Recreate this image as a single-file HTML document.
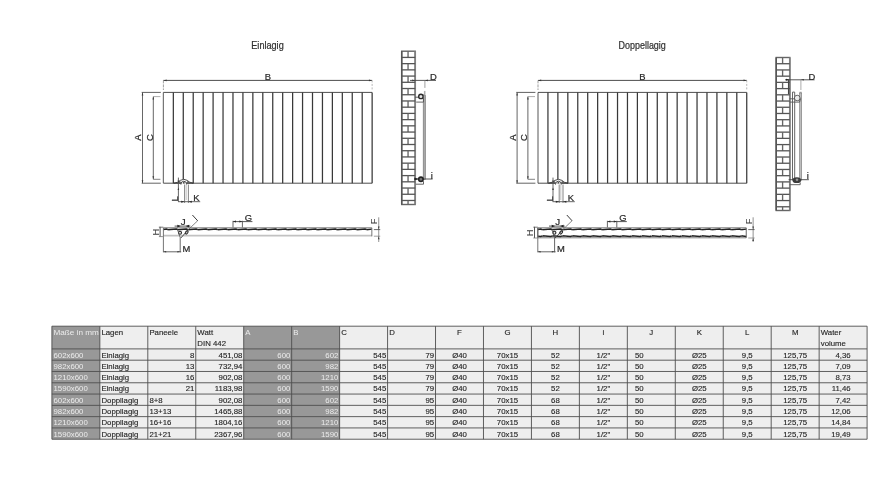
<!DOCTYPE html>
<html><head><meta charset="utf-8"><title>Radiator dimensions</title>
<style>
html,body{margin:0;padding:0;background:#fff;}
body{width:886px;height:479px;overflow:hidden;font-family:"Liberation Sans",sans-serif;}
svg{display:block;font-family:"Liberation Sans",sans-serif;}
.lbl{stroke:#2a2a2a;stroke-width:.22px;}
.tc{stroke:#262626;stroke-width:.14px;}
</style></head><body>
<svg width="886" height="479" viewBox="0 0 886 479">
<defs><filter id="soft" x="-2%" y="-2%" width="104%" height="104%"><feGaussianBlur stdDeviation="0.35"/></filter></defs>
<rect width="886" height="479" fill="#fff"/>
<g filter="url(#soft)">
<line x1="163.40" y1="92.40" x2="163.40" y2="183.20" stroke="#777" stroke-width="1.25" />
<line x1="173.34" y1="92.40" x2="173.34" y2="183.20" stroke="#383838" stroke-width="1.25" />
<line x1="183.28" y1="92.40" x2="183.28" y2="183.20" stroke="#383838" stroke-width="1.25" />
<line x1="193.22" y1="92.40" x2="193.22" y2="183.20" stroke="#383838" stroke-width="1.25" />
<line x1="203.16" y1="92.40" x2="203.16" y2="183.20" stroke="#383838" stroke-width="1.25" />
<line x1="213.10" y1="92.40" x2="213.10" y2="183.20" stroke="#383838" stroke-width="1.25" />
<line x1="223.04" y1="92.40" x2="223.04" y2="183.20" stroke="#383838" stroke-width="1.25" />
<line x1="232.98" y1="92.40" x2="232.98" y2="183.20" stroke="#383838" stroke-width="1.25" />
<line x1="242.92" y1="92.40" x2="242.92" y2="183.20" stroke="#383838" stroke-width="1.25" />
<line x1="252.86" y1="92.40" x2="252.86" y2="183.20" stroke="#383838" stroke-width="1.25" />
<line x1="262.80" y1="92.40" x2="262.80" y2="183.20" stroke="#383838" stroke-width="1.25" />
<line x1="272.74" y1="92.40" x2="272.74" y2="183.20" stroke="#383838" stroke-width="1.25" />
<line x1="282.68" y1="92.40" x2="282.68" y2="183.20" stroke="#383838" stroke-width="1.25" />
<line x1="292.62" y1="92.40" x2="292.62" y2="183.20" stroke="#383838" stroke-width="1.25" />
<line x1="302.56" y1="92.40" x2="302.56" y2="183.20" stroke="#383838" stroke-width="1.25" />
<line x1="312.50" y1="92.40" x2="312.50" y2="183.20" stroke="#383838" stroke-width="1.25" />
<line x1="322.44" y1="92.40" x2="322.44" y2="183.20" stroke="#383838" stroke-width="1.25" />
<line x1="332.38" y1="92.40" x2="332.38" y2="183.20" stroke="#383838" stroke-width="1.25" />
<line x1="342.32" y1="92.40" x2="342.32" y2="183.20" stroke="#383838" stroke-width="1.25" />
<line x1="352.26" y1="92.40" x2="352.26" y2="183.20" stroke="#383838" stroke-width="1.25" />
<line x1="362.20" y1="92.40" x2="362.20" y2="183.20" stroke="#383838" stroke-width="1.25" />
<line x1="372.14" y1="92.40" x2="372.14" y2="183.20" stroke="#383838" stroke-width="1.25" />
<line x1="163.40" y1="92.40" x2="372.14" y2="92.40" stroke="#383838" stroke-width="0.9" />
<line x1="163.40" y1="183.20" x2="372.14" y2="183.20" stroke="#383838" stroke-width="0.9" />
<line x1="163.40" y1="80.40" x2="372.14" y2="80.40" stroke="#383838" stroke-width="0.9" />
<path d="M163.40,80.40 L166.60,79.60 L166.60,81.20 Z" fill="#383838"/>
<path d="M372.14,80.40 L368.94,79.60 L368.94,81.20 Z" fill="#383838"/>
<line x1="163.40" y1="80.40" x2="163.40" y2="90.00" stroke="#777" stroke-width="0.7" stroke-dasharray="3 1"/>
<line x1="372.14" y1="80.40" x2="372.14" y2="90.00" stroke="#999" stroke-width="0.7" stroke-dasharray="2 1.5"/>
<text x="267.87" y="80.20" font-size="9.4" fill="#2a2a2a" text-anchor="middle"  class="lbl">B</text>
<line x1="141.70" y1="92.40" x2="160.80" y2="92.40" stroke="#383838" stroke-width="0.8" />
<line x1="141.70" y1="183.20" x2="160.80" y2="183.20" stroke="#383838" stroke-width="0.8" />
<line x1="142.50" y1="92.40" x2="142.50" y2="183.20" stroke="#555" stroke-width="0.9" />
<path d="M142.50,92.40 L141.70,95.40 L143.30,95.40 Z" fill="#383838"/>
<path d="M142.50,183.20 L141.70,180.20 L143.30,180.20 Z" fill="#383838"/>
<line x1="153.30" y1="96.60" x2="153.30" y2="179.30" stroke="#555" stroke-width="0.9" />
<line x1="153.30" y1="96.60" x2="160.40" y2="96.60" stroke="#888" stroke-width="0.7" />
<line x1="153.30" y1="179.30" x2="160.40" y2="179.30" stroke="#666" stroke-width="0.8" />
<path d="M153.30,96.60 L152.50,99.60 L154.10,99.60 Z" fill="#383838"/>
<path d="M153.30,179.30 L152.50,176.30 L154.10,176.30 Z" fill="#383838"/>
<text transform="translate(141.30,137.6) rotate(-90)" class="lbl" font-size="9.4" fill="#2a2a2a" text-anchor="middle">A</text>
<text transform="translate(152.50,137.6) rotate(-90)" class="lbl" font-size="9.4" fill="#2a2a2a" text-anchor="middle">C</text>
<path d="M173.80,183.2 Q178.80,182.6 180.30,180.4 Q183.80,178.2 187.30,180.4 Q188.80,182.6 193.30,183.2 Z" stroke="#383838" stroke-width="0.9" fill="#fff" />
<path d="M176.80,183.2 L179.80,181 L180.80,183.2 Z" stroke="#555" stroke-width="0.6" fill="#666" />
<path d="M190.80,183.2 L187.80,181 L186.80,183.2 Z" stroke="#555" stroke-width="0.6" fill="#666" />
<path d="M180.90,184.6 Q180.90,181.2 183.80,181.2 Q186.70,181.2 186.70,184.6" stroke="#383838" stroke-width="0.9" fill="#fff" />
<path d="M183.00,183.2 L183.80,181.9 L184.60,183.2 Z" stroke="#383838" stroke-width="0.6" fill="#383838" />
<line x1="178.40" y1="177.60" x2="178.40" y2="201.70" stroke="#555" stroke-width="0.9" />
<path d="M178.40,183.20 L177.60,180.60 L179.20,180.60 Z" fill="#383838"/>
<path d="M178.40,187.40 L177.60,190.00 L179.20,190.00 Z" fill="#383838"/>
<line x1="184.60" y1="184.50" x2="184.60" y2="203.00" stroke="#777" stroke-width="0.9" />
<line x1="186.20" y1="184.50" x2="186.20" y2="200.00" stroke="#aaa" stroke-width="0.7" />
<line x1="188.40" y1="184.50" x2="188.40" y2="203.00" stroke="#777" stroke-width="0.9" />
<line x1="178.00" y1="201.70" x2="200.20" y2="201.70" stroke="#555" stroke-width="0.9" />
<path d="M184.60,201.70 L181.20,200.70 L181.20,202.70 Z" fill="#2a2a2a"/>
<path d="M188.40,201.70 L191.80,200.70 L191.80,202.70 Z" fill="#2a2a2a"/>
<text x="193.20" y="201.30" font-size="9.4" fill="#2a2a2a" text-anchor="start"  class="lbl">K</text>
<text transform="translate(177.90,201.6) rotate(-90)" class="lbl" font-size="9.4" fill="#444">L</text>
<line x1="538.00" y1="92.40" x2="538.00" y2="183.20" stroke="#777" stroke-width="1.25" />
<line x1="547.94" y1="92.40" x2="547.94" y2="183.20" stroke="#383838" stroke-width="1.25" />
<line x1="557.88" y1="92.40" x2="557.88" y2="183.20" stroke="#383838" stroke-width="1.25" />
<line x1="567.82" y1="92.40" x2="567.82" y2="183.20" stroke="#383838" stroke-width="1.25" />
<line x1="577.76" y1="92.40" x2="577.76" y2="183.20" stroke="#383838" stroke-width="1.25" />
<line x1="587.70" y1="92.40" x2="587.70" y2="183.20" stroke="#383838" stroke-width="1.25" />
<line x1="597.64" y1="92.40" x2="597.64" y2="183.20" stroke="#383838" stroke-width="1.25" />
<line x1="607.58" y1="92.40" x2="607.58" y2="183.20" stroke="#383838" stroke-width="1.25" />
<line x1="617.52" y1="92.40" x2="617.52" y2="183.20" stroke="#383838" stroke-width="1.25" />
<line x1="627.46" y1="92.40" x2="627.46" y2="183.20" stroke="#383838" stroke-width="1.25" />
<line x1="637.40" y1="92.40" x2="637.40" y2="183.20" stroke="#383838" stroke-width="1.25" />
<line x1="647.34" y1="92.40" x2="647.34" y2="183.20" stroke="#383838" stroke-width="1.25" />
<line x1="657.28" y1="92.40" x2="657.28" y2="183.20" stroke="#383838" stroke-width="1.25" />
<line x1="667.22" y1="92.40" x2="667.22" y2="183.20" stroke="#383838" stroke-width="1.25" />
<line x1="677.16" y1="92.40" x2="677.16" y2="183.20" stroke="#383838" stroke-width="1.25" />
<line x1="687.10" y1="92.40" x2="687.10" y2="183.20" stroke="#383838" stroke-width="1.25" />
<line x1="697.04" y1="92.40" x2="697.04" y2="183.20" stroke="#383838" stroke-width="1.25" />
<line x1="706.98" y1="92.40" x2="706.98" y2="183.20" stroke="#383838" stroke-width="1.25" />
<line x1="716.92" y1="92.40" x2="716.92" y2="183.20" stroke="#383838" stroke-width="1.25" />
<line x1="726.86" y1="92.40" x2="726.86" y2="183.20" stroke="#383838" stroke-width="1.25" />
<line x1="736.80" y1="92.40" x2="736.80" y2="183.20" stroke="#383838" stroke-width="1.25" />
<line x1="746.74" y1="92.40" x2="746.74" y2="183.20" stroke="#383838" stroke-width="1.25" />
<line x1="538.00" y1="92.40" x2="746.74" y2="92.40" stroke="#383838" stroke-width="0.9" />
<line x1="538.00" y1="183.20" x2="746.74" y2="183.20" stroke="#383838" stroke-width="0.9" />
<line x1="538.00" y1="80.40" x2="746.74" y2="80.40" stroke="#383838" stroke-width="0.9" />
<path d="M538.00,80.40 L541.20,79.60 L541.20,81.20 Z" fill="#383838"/>
<path d="M746.74,80.40 L743.54,79.60 L743.54,81.20 Z" fill="#383838"/>
<line x1="538.00" y1="80.40" x2="538.00" y2="90.00" stroke="#777" stroke-width="0.7" stroke-dasharray="3 1"/>
<line x1="746.74" y1="80.40" x2="746.74" y2="90.00" stroke="#999" stroke-width="0.7" stroke-dasharray="2 1.5"/>
<text x="642.47" y="80.20" font-size="9.4" fill="#2a2a2a" text-anchor="middle"  class="lbl">B</text>
<line x1="516.30" y1="92.40" x2="535.40" y2="92.40" stroke="#383838" stroke-width="0.8" />
<line x1="516.30" y1="183.20" x2="535.40" y2="183.20" stroke="#383838" stroke-width="0.8" />
<line x1="517.10" y1="92.40" x2="517.10" y2="183.20" stroke="#555" stroke-width="0.9" />
<path d="M517.10,92.40 L516.30,95.40 L517.90,95.40 Z" fill="#383838"/>
<path d="M517.10,183.20 L516.30,180.20 L517.90,180.20 Z" fill="#383838"/>
<line x1="527.90" y1="96.60" x2="527.90" y2="179.30" stroke="#555" stroke-width="0.9" />
<line x1="527.90" y1="96.60" x2="535.00" y2="96.60" stroke="#888" stroke-width="0.7" />
<line x1="527.90" y1="179.30" x2="535.00" y2="179.30" stroke="#666" stroke-width="0.8" />
<path d="M527.90,96.60 L527.10,99.60 L528.70,99.60 Z" fill="#383838"/>
<path d="M527.90,179.30 L527.10,176.30 L528.70,176.30 Z" fill="#383838"/>
<text transform="translate(515.90,137.6) rotate(-90)" class="lbl" font-size="9.4" fill="#2a2a2a" text-anchor="middle">A</text>
<text transform="translate(527.10,137.6) rotate(-90)" class="lbl" font-size="9.4" fill="#2a2a2a" text-anchor="middle">C</text>
<path d="M548.40,183.2 Q553.40,182.6 554.90,180.4 Q558.40,178.2 561.90,180.4 Q563.40,182.6 567.90,183.2 Z" stroke="#383838" stroke-width="0.9" fill="#fff" />
<path d="M551.40,183.2 L554.40,181 L555.40,183.2 Z" stroke="#555" stroke-width="0.6" fill="#666" />
<path d="M565.40,183.2 L562.40,181 L561.40,183.2 Z" stroke="#555" stroke-width="0.6" fill="#666" />
<path d="M555.50,184.6 Q555.50,181.2 558.40,181.2 Q561.30,181.2 561.30,184.6" stroke="#383838" stroke-width="0.9" fill="#fff" />
<path d="M557.60,183.2 L558.40,181.9 L559.20,183.2 Z" stroke="#383838" stroke-width="0.6" fill="#383838" />
<line x1="553.00" y1="177.60" x2="553.00" y2="201.70" stroke="#555" stroke-width="0.9" />
<path d="M553.00,183.20 L552.20,180.60 L553.80,180.60 Z" fill="#383838"/>
<path d="M553.00,187.40 L552.20,190.00 L553.80,190.00 Z" fill="#383838"/>
<line x1="559.20" y1="184.50" x2="559.20" y2="203.00" stroke="#777" stroke-width="0.9" />
<line x1="560.80" y1="184.50" x2="560.80" y2="200.00" stroke="#aaa" stroke-width="0.7" />
<line x1="563.00" y1="184.50" x2="563.00" y2="203.00" stroke="#777" stroke-width="0.9" />
<line x1="552.60" y1="201.70" x2="574.80" y2="201.70" stroke="#555" stroke-width="0.9" />
<path d="M559.20,201.70 L555.80,200.70 L555.80,202.70 Z" fill="#2a2a2a"/>
<path d="M563.00,201.70 L566.40,200.70 L566.40,202.70 Z" fill="#2a2a2a"/>
<text x="567.80" y="201.30" font-size="9.4" fill="#2a2a2a" text-anchor="start"  class="lbl">K</text>
<text transform="translate(552.50,201.6) rotate(-90)" class="lbl" font-size="9.4" fill="#444">L</text>
<rect x="401.70" y="51.20" width="13.50" height="153.30" fill="#fff" stroke="#666" stroke-width="1.4"/>
<line x1="401.70" y1="51.20" x2="401.70" y2="204.50" stroke="#555" stroke-width="1.5" />
<line x1="415.20" y1="51.20" x2="415.20" y2="204.50" stroke="#808080" stroke-width="1.7" />
<line x1="408.05" y1="51.20" x2="408.05" y2="57.42" stroke="#666" stroke-width="1.35" />
<line x1="401.70" y1="57.42" x2="415.20" y2="57.42" stroke="#555" stroke-width="1.3" />
<line x1="401.70" y1="63.64" x2="415.20" y2="63.64" stroke="#555" stroke-width="1.3" />
<line x1="408.05" y1="63.64" x2="408.05" y2="69.86" stroke="#666" stroke-width="1.35" />
<line x1="401.70" y1="69.86" x2="415.20" y2="69.86" stroke="#555" stroke-width="1.3" />
<line x1="401.70" y1="76.08" x2="415.20" y2="76.08" stroke="#555" stroke-width="1.3" />
<line x1="408.05" y1="76.08" x2="408.05" y2="82.30" stroke="#666" stroke-width="1.35" />
<line x1="401.70" y1="82.30" x2="415.20" y2="82.30" stroke="#555" stroke-width="1.3" />
<line x1="401.70" y1="88.52" x2="415.20" y2="88.52" stroke="#555" stroke-width="1.3" />
<line x1="408.05" y1="88.52" x2="408.05" y2="94.74" stroke="#666" stroke-width="1.35" />
<line x1="401.70" y1="94.74" x2="415.20" y2="94.74" stroke="#555" stroke-width="1.3" />
<line x1="401.70" y1="100.96" x2="415.20" y2="100.96" stroke="#555" stroke-width="1.3" />
<line x1="408.05" y1="100.96" x2="408.05" y2="107.18" stroke="#666" stroke-width="1.35" />
<line x1="401.70" y1="107.18" x2="415.20" y2="107.18" stroke="#555" stroke-width="1.3" />
<line x1="401.70" y1="113.40" x2="415.20" y2="113.40" stroke="#555" stroke-width="1.3" />
<line x1="408.05" y1="113.40" x2="408.05" y2="119.62" stroke="#666" stroke-width="1.35" />
<line x1="401.70" y1="119.62" x2="415.20" y2="119.62" stroke="#555" stroke-width="1.3" />
<line x1="401.70" y1="125.84" x2="415.20" y2="125.84" stroke="#555" stroke-width="1.3" />
<line x1="408.05" y1="125.84" x2="408.05" y2="132.06" stroke="#666" stroke-width="1.35" />
<line x1="401.70" y1="132.06" x2="415.20" y2="132.06" stroke="#555" stroke-width="1.3" />
<line x1="401.70" y1="138.28" x2="415.20" y2="138.28" stroke="#555" stroke-width="1.3" />
<line x1="408.05" y1="138.28" x2="408.05" y2="144.50" stroke="#666" stroke-width="1.35" />
<line x1="401.70" y1="144.50" x2="415.20" y2="144.50" stroke="#555" stroke-width="1.3" />
<line x1="401.70" y1="150.72" x2="415.20" y2="150.72" stroke="#555" stroke-width="1.3" />
<line x1="408.05" y1="150.72" x2="408.05" y2="156.94" stroke="#666" stroke-width="1.35" />
<line x1="401.70" y1="156.94" x2="415.20" y2="156.94" stroke="#555" stroke-width="1.3" />
<line x1="401.70" y1="163.16" x2="415.20" y2="163.16" stroke="#555" stroke-width="1.3" />
<line x1="408.05" y1="163.16" x2="408.05" y2="169.38" stroke="#666" stroke-width="1.35" />
<line x1="401.70" y1="169.38" x2="415.20" y2="169.38" stroke="#555" stroke-width="1.3" />
<line x1="401.70" y1="175.60" x2="415.20" y2="175.60" stroke="#555" stroke-width="1.3" />
<line x1="408.05" y1="175.60" x2="408.05" y2="181.82" stroke="#666" stroke-width="1.35" />
<line x1="401.70" y1="181.82" x2="415.20" y2="181.82" stroke="#555" stroke-width="1.3" />
<line x1="401.70" y1="188.04" x2="415.20" y2="188.04" stroke="#555" stroke-width="1.3" />
<line x1="408.05" y1="188.04" x2="408.05" y2="194.26" stroke="#666" stroke-width="1.35" />
<line x1="401.70" y1="194.26" x2="415.20" y2="194.26" stroke="#555" stroke-width="1.3" />
<line x1="401.70" y1="200.48" x2="415.20" y2="200.48" stroke="#555" stroke-width="1.3" />
<line x1="408.05" y1="200.48" x2="408.05" y2="204.50" stroke="#666" stroke-width="1.35" />
<rect x="776.20" y="57.50" width="13.60" height="153.00" fill="#fff" stroke="#666" stroke-width="1.4"/>
<line x1="776.20" y1="57.50" x2="776.20" y2="210.50" stroke="#555" stroke-width="1.5" />
<line x1="789.80" y1="57.50" x2="789.80" y2="210.50" stroke="#808080" stroke-width="1.7" />
<line x1="782.60" y1="57.50" x2="782.60" y2="63.72" stroke="#666" stroke-width="1.35" />
<line x1="776.20" y1="63.72" x2="789.80" y2="63.72" stroke="#555" stroke-width="1.3" />
<line x1="776.20" y1="69.94" x2="789.80" y2="69.94" stroke="#555" stroke-width="1.3" />
<line x1="782.60" y1="69.94" x2="782.60" y2="76.16" stroke="#666" stroke-width="1.35" />
<line x1="776.20" y1="76.16" x2="789.80" y2="76.16" stroke="#555" stroke-width="1.3" />
<line x1="776.20" y1="82.38" x2="789.80" y2="82.38" stroke="#555" stroke-width="1.3" />
<line x1="782.60" y1="82.38" x2="782.60" y2="88.60" stroke="#666" stroke-width="1.35" />
<line x1="776.20" y1="88.60" x2="789.80" y2="88.60" stroke="#555" stroke-width="1.3" />
<line x1="776.20" y1="94.82" x2="789.80" y2="94.82" stroke="#555" stroke-width="1.3" />
<line x1="782.60" y1="94.82" x2="782.60" y2="101.04" stroke="#666" stroke-width="1.35" />
<line x1="776.20" y1="101.04" x2="789.80" y2="101.04" stroke="#555" stroke-width="1.3" />
<line x1="776.20" y1="107.26" x2="789.80" y2="107.26" stroke="#555" stroke-width="1.3" />
<line x1="782.60" y1="107.26" x2="782.60" y2="113.48" stroke="#666" stroke-width="1.35" />
<line x1="776.20" y1="113.48" x2="789.80" y2="113.48" stroke="#555" stroke-width="1.3" />
<line x1="776.20" y1="119.70" x2="789.80" y2="119.70" stroke="#555" stroke-width="1.3" />
<line x1="782.60" y1="119.70" x2="782.60" y2="125.92" stroke="#666" stroke-width="1.35" />
<line x1="776.20" y1="125.92" x2="789.80" y2="125.92" stroke="#555" stroke-width="1.3" />
<line x1="776.20" y1="132.14" x2="789.80" y2="132.14" stroke="#555" stroke-width="1.3" />
<line x1="782.60" y1="132.14" x2="782.60" y2="138.36" stroke="#666" stroke-width="1.35" />
<line x1="776.20" y1="138.36" x2="789.80" y2="138.36" stroke="#555" stroke-width="1.3" />
<line x1="776.20" y1="144.58" x2="789.80" y2="144.58" stroke="#555" stroke-width="1.3" />
<line x1="782.60" y1="144.58" x2="782.60" y2="150.80" stroke="#666" stroke-width="1.35" />
<line x1="776.20" y1="150.80" x2="789.80" y2="150.80" stroke="#555" stroke-width="1.3" />
<line x1="776.20" y1="157.02" x2="789.80" y2="157.02" stroke="#555" stroke-width="1.3" />
<line x1="782.60" y1="157.02" x2="782.60" y2="163.24" stroke="#666" stroke-width="1.35" />
<line x1="776.20" y1="163.24" x2="789.80" y2="163.24" stroke="#555" stroke-width="1.3" />
<line x1="776.20" y1="169.46" x2="789.80" y2="169.46" stroke="#555" stroke-width="1.3" />
<line x1="782.60" y1="169.46" x2="782.60" y2="175.68" stroke="#666" stroke-width="1.35" />
<line x1="776.20" y1="175.68" x2="789.80" y2="175.68" stroke="#555" stroke-width="1.3" />
<line x1="776.20" y1="181.90" x2="789.80" y2="181.90" stroke="#555" stroke-width="1.3" />
<line x1="782.60" y1="181.90" x2="782.60" y2="188.12" stroke="#666" stroke-width="1.35" />
<line x1="776.20" y1="188.12" x2="789.80" y2="188.12" stroke="#555" stroke-width="1.3" />
<line x1="776.20" y1="194.34" x2="789.80" y2="194.34" stroke="#555" stroke-width="1.3" />
<line x1="782.60" y1="194.34" x2="782.60" y2="200.56" stroke="#666" stroke-width="1.35" />
<line x1="776.20" y1="200.56" x2="789.80" y2="200.56" stroke="#555" stroke-width="1.3" />
<line x1="776.20" y1="206.78" x2="789.80" y2="206.78" stroke="#555" stroke-width="1.3" />
<line x1="782.60" y1="206.78" x2="782.60" y2="210.50" stroke="#666" stroke-width="1.35" />
<rect x="423.20" y="95.50" width="2.20" height="83.80" fill="#a8a8a8" stroke="#707070" stroke-width="0.6"/>
<line x1="410.00" y1="80.40" x2="436.00" y2="80.40" stroke="#444" stroke-width="0.9" />
<path d="M415.20,80.40 L412.20,79.60 L412.20,81.20 Z" fill="#383838"/>
<path d="M424.90,80.40 L427.90,79.60 L427.90,81.20 Z" fill="#383838"/>
<line x1="424.90" y1="80.40" x2="424.90" y2="95.00" stroke="#777" stroke-width="0.7" stroke-dasharray="7.5 3"/>
<text x="430.00" y="80.20" font-size="9.4" fill="#2a2a2a" text-anchor="start"  class="lbl">D</text>
<line x1="415.20" y1="97.20" x2="419.00" y2="97.20" stroke="#444" stroke-width="0.9" />
<circle cx="420.90" cy="96.40" r="2.2" stroke="#2a2a2a" stroke-width="1.4" fill="#e4e4e4"/>
<path d="M423.5,94.5 L423.5,102.1 L416.2,102.1" stroke="#555" stroke-width="0.9" fill="none" />
<line x1="424.40" y1="91.20" x2="424.40" y2="95.50" stroke="#999" stroke-width="0.7" />
<line x1="414.30" y1="179.00" x2="432.60" y2="179.00" stroke="#444" stroke-width="0.9" />
<path d="M418.60,179.00 L414.40,177.60 L414.40,180.40 Z" fill="#222"/>
<circle cx="420.90" cy="179.30" r="2.2" stroke="#222" stroke-width="1.6" fill="#777"/>
<path d="M423.5,181.2 L423.5,184.2 L415.8,184.2" stroke="#555" stroke-width="0.9" fill="none" />
<text x="430.80" y="178.60" font-size="9.4" fill="#2a2a2a" text-anchor="start"  class="lbl">i</text>
<line x1="792.50" y1="92.10" x2="792.50" y2="180.00" stroke="#555" stroke-width="0.9" />
<line x1="794.70" y1="92.10" x2="794.70" y2="180.00" stroke="#555" stroke-width="0.9" />
<line x1="792.50" y1="92.10" x2="794.70" y2="92.10" stroke="#555" stroke-width="0.9" />
<rect x="799.50" y="93.00" width="2.20" height="87.00" fill="#bdbdbd" stroke="#787878" stroke-width="0.6"/>
<line x1="799.50" y1="92.30" x2="801.70" y2="92.30" stroke="#777" stroke-width="0.8" />
<line x1="785.00" y1="79.80" x2="814.60" y2="79.80" stroke="#444" stroke-width="0.9" />
<path d="M789.40,79.80 L786.00,78.80 L786.00,80.80 Z" fill="#222"/>
<path d="M800.90,79.80 L803.90,79.00 L803.90,80.60 Z" fill="#383838"/>
<line x1="800.90" y1="79.80" x2="800.90" y2="90.00" stroke="#888" stroke-width="0.7" />
<line x1="788.60" y1="79.50" x2="788.60" y2="94.20" stroke="#444" stroke-width="1.3" />
<text x="808.60" y="79.50" font-size="9.4" fill="#2a2a2a" text-anchor="start"  class="lbl">D</text>
<circle cx="797.20" cy="98.00" r="2.8" stroke="#555" stroke-width="0.9" fill="#ececec"/>
<line x1="789.40" y1="98.80" x2="795.00" y2="98.80" stroke="#555" stroke-width="0.9" />
<path d="M789.6,102.1 L799.6,102.1 L800.6,98.5" stroke="#555" stroke-width="0.9" fill="none" />
<line x1="788.60" y1="179.70" x2="808.90" y2="179.70" stroke="#444" stroke-width="0.9" />
<ellipse cx="796.8" cy="180.2" rx="4.3" ry="2.9" fill="#3a3a3a"/>
<circle cx="797.00" cy="179.80" r="1.0" stroke="#999" stroke-width="0.6" fill="#aaa"/>
<path d="M800.2,182.5 L800.2,184.7 L789.6,184.7" stroke="#555" stroke-width="0.9" fill="none" />
<text x="806.80" y="179.20" font-size="9.4" fill="#2a2a2a" text-anchor="start"  class="lbl">i</text>
<line x1="163.40" y1="227.80" x2="371.84" y2="227.80" stroke="#6e6e6e" stroke-width="0.9" />
<path d="M163.40,229.45 L166.40,229.10 L168.00,229.75 L176.34,229.10 L177.94,229.75 L186.28,229.10 L187.88,229.75 L196.22,229.10 L197.82,229.75 L206.16,229.10 L207.76,229.75 L216.10,229.10 L217.70,229.75 L226.04,229.10 L227.64,229.75 L235.98,229.10 L237.58,229.75 L245.92,229.10 L247.52,229.75 L255.86,229.10 L257.46,229.75 L265.80,229.10 L267.40,229.75 L275.74,229.10 L277.34,229.75 L285.68,229.10 L287.28,229.75 L295.62,229.10 L297.22,229.75 L305.56,229.10 L307.16,229.75 L315.50,229.10 L317.10,229.75 L325.44,229.10 L327.04,229.75 L335.38,229.10 L336.98,229.75 L345.32,229.10 L346.92,229.75 L355.26,229.10 L356.86,229.75 L365.20,229.10 L366.80,229.75 L371.84,229.15" stroke="#222" stroke-width="1.45" fill="none" />
<circle cx="167.80" cy="230.35" r="0.55" fill="#ddd"/>
<circle cx="177.74" cy="230.35" r="0.55" fill="#ddd"/>
<circle cx="187.68" cy="230.35" r="0.55" fill="#ddd"/>
<circle cx="197.62" cy="230.35" r="0.55" fill="#ddd"/>
<circle cx="207.56" cy="230.35" r="0.55" fill="#ddd"/>
<circle cx="217.50" cy="230.35" r="0.55" fill="#ddd"/>
<circle cx="227.44" cy="230.35" r="0.55" fill="#ddd"/>
<circle cx="237.38" cy="230.35" r="0.55" fill="#ddd"/>
<circle cx="247.32" cy="230.35" r="0.55" fill="#ddd"/>
<circle cx="257.26" cy="230.35" r="0.55" fill="#ddd"/>
<circle cx="267.20" cy="230.35" r="0.55" fill="#ddd"/>
<circle cx="277.14" cy="230.35" r="0.55" fill="#ddd"/>
<circle cx="287.08" cy="230.35" r="0.55" fill="#ddd"/>
<circle cx="297.02" cy="230.35" r="0.55" fill="#ddd"/>
<circle cx="306.96" cy="230.35" r="0.55" fill="#ddd"/>
<circle cx="316.90" cy="230.35" r="0.55" fill="#ddd"/>
<circle cx="326.84" cy="230.35" r="0.55" fill="#ddd"/>
<circle cx="336.78" cy="230.35" r="0.55" fill="#ddd"/>
<circle cx="346.72" cy="230.35" r="0.55" fill="#ddd"/>
<circle cx="356.66" cy="230.35" r="0.55" fill="#ddd"/>
<circle cx="366.60" cy="230.35" r="0.55" fill="#ddd"/>
<line x1="163.40" y1="235.70" x2="371.84" y2="235.70" stroke="#c2c2c2" stroke-width="1.8" />
<line x1="371.84" y1="227.80" x2="371.84" y2="236.30" stroke="#666" stroke-width="0.9" />
<line x1="378.74" y1="217.30" x2="378.74" y2="242.00" stroke="#777" stroke-width="0.8" />
<line x1="373.84" y1="229.60" x2="380.24" y2="229.60" stroke="#444" stroke-width="0.8" />
<line x1="373.84" y1="236.20" x2="380.24" y2="236.20" stroke="#777" stroke-width="0.7" />
<path d="M378.74,229.60 L377.94,226.60 L379.54,226.60 Z" fill="#383838"/>
<path d="M378.74,236.20 L377.94,239.20 L379.54,239.20 Z" fill="#383838"/>
<text transform="translate(377.14,224.2) rotate(-90)" font-size="9.4" fill="#3a3a3a">F</text>
<line x1="233.00" y1="221.60" x2="252.40" y2="221.60" stroke="#444" stroke-width="0.9" />
<line x1="233.00" y1="220.80" x2="233.00" y2="227.40" stroke="#555" stroke-width="0.9" />
<line x1="242.40" y1="220.80" x2="242.40" y2="227.40" stroke="#555" stroke-width="0.9" />
<path d="M233.00,221.60 L236.00,220.60 L236.00,222.60 Z" fill="#2a2a2a"/>
<path d="M242.40,221.60 L239.40,220.60 L239.40,222.60 Z" fill="#2a2a2a"/>
<text x="244.80" y="221.40" font-size="9.4" fill="#2a2a2a" text-anchor="start"  class="lbl">G</text>
<line x1="160.10" y1="226.80" x2="160.10" y2="236.60" stroke="#555" stroke-width="1.0" />
<line x1="158.90" y1="227.20" x2="163.40" y2="227.20" stroke="#555" stroke-width="0.8" />
<line x1="158.90" y1="236.60" x2="162.90" y2="236.60" stroke="#777" stroke-width="0.8" />
<text transform="translate(158.70,232.20) rotate(-90)" font-size="9.4" fill="#3a3a3a" text-anchor="middle">H</text>
<line x1="163.40" y1="227.80" x2="163.40" y2="252.30" stroke="#666" stroke-width="0.9" />
<line x1="180.20" y1="237.50" x2="180.20" y2="252.30" stroke="#555" stroke-width="0.9" />
<line x1="163.40" y1="251.80" x2="181.20" y2="251.80" stroke="#555" stroke-width="0.9" />
<path d="M163.40,251.80 L166.20,251.00 L166.20,252.60 Z" fill="#383838"/>
<path d="M180.20,251.80 L177.40,251.00 L177.40,252.60 Z" fill="#383838"/>
<text x="182.50" y="251.60" font-size="9.4" fill="#2a2a2a" text-anchor="start"  class="lbl">M</text>
<circle cx="180.00" cy="232.70" r="1.5" stroke="#2a2a2a" stroke-width="1.15" fill="#eee"/>
<ellipse cx="186.70" cy="232.4" rx="1.1" ry="1.8" transform="rotate(35 186.70 232.4)" fill="#eee" stroke="#2a2a2a" stroke-width="1.15"/>
<line x1="180.80" y1="238.00" x2="188.40" y2="229.60" stroke="#444" stroke-width="1.0" />
<line x1="188.40" y1="229.60" x2="197.70" y2="220.70" stroke="#666" stroke-width="0.8" />
<line x1="177.60" y1="230.00" x2="180.20" y2="237.60" stroke="#555" stroke-width="0.8" />
<line x1="197.70" y1="220.80" x2="192.40" y2="215.00" stroke="#3a3a3a" stroke-width="1.0" />
<line x1="174.60" y1="226.10" x2="190.40" y2="226.10" stroke="#444" stroke-width="0.9" />
<path d="M180.70,226.10 L177.30,224.80 L177.30,227.40 Z" fill="#222"/>
<path d="M185.60,226.10 L189.20,224.80 L189.20,227.40 Z" fill="#222"/>
<text x="180.80" y="225.20" font-size="9.8" fill="#2a2a2a" text-anchor="start"  class="lbl">J</text>
<line x1="537.80" y1="227.80" x2="746.24" y2="227.80" stroke="#6e6e6e" stroke-width="0.9" />
<path d="M537.80,229.45 L540.80,229.10 L542.40,229.75 L550.74,229.10 L552.34,229.75 L560.68,229.10 L562.28,229.75 L570.62,229.10 L572.22,229.75 L580.56,229.10 L582.16,229.75 L590.50,229.10 L592.10,229.75 L600.44,229.10 L602.04,229.75 L610.38,229.10 L611.98,229.75 L620.32,229.10 L621.92,229.75 L630.26,229.10 L631.86,229.75 L640.20,229.10 L641.80,229.75 L650.14,229.10 L651.74,229.75 L660.08,229.10 L661.68,229.75 L670.02,229.10 L671.62,229.75 L679.96,229.10 L681.56,229.75 L689.90,229.10 L691.50,229.75 L699.84,229.10 L701.44,229.75 L709.78,229.10 L711.38,229.75 L719.72,229.10 L721.32,229.75 L729.66,229.10 L731.26,229.75 L739.60,229.10 L741.20,229.75 L746.24,229.15" stroke="#222" stroke-width="1.45" fill="none" />
<circle cx="542.20" cy="230.35" r="0.55" fill="#ddd"/>
<circle cx="552.14" cy="230.35" r="0.55" fill="#ddd"/>
<circle cx="562.08" cy="230.35" r="0.55" fill="#ddd"/>
<circle cx="572.02" cy="230.35" r="0.55" fill="#ddd"/>
<circle cx="581.96" cy="230.35" r="0.55" fill="#ddd"/>
<circle cx="591.90" cy="230.35" r="0.55" fill="#ddd"/>
<circle cx="601.84" cy="230.35" r="0.55" fill="#ddd"/>
<circle cx="611.78" cy="230.35" r="0.55" fill="#ddd"/>
<circle cx="621.72" cy="230.35" r="0.55" fill="#ddd"/>
<circle cx="631.66" cy="230.35" r="0.55" fill="#ddd"/>
<circle cx="641.60" cy="230.35" r="0.55" fill="#ddd"/>
<circle cx="651.54" cy="230.35" r="0.55" fill="#ddd"/>
<circle cx="661.48" cy="230.35" r="0.55" fill="#ddd"/>
<circle cx="671.42" cy="230.35" r="0.55" fill="#ddd"/>
<circle cx="681.36" cy="230.35" r="0.55" fill="#ddd"/>
<circle cx="691.30" cy="230.35" r="0.55" fill="#ddd"/>
<circle cx="701.24" cy="230.35" r="0.55" fill="#ddd"/>
<circle cx="711.18" cy="230.35" r="0.55" fill="#ddd"/>
<circle cx="721.12" cy="230.35" r="0.55" fill="#ddd"/>
<circle cx="731.06" cy="230.35" r="0.55" fill="#ddd"/>
<circle cx="741.00" cy="230.35" r="0.55" fill="#ddd"/>
<line x1="537.80" y1="237.80" x2="746.24" y2="237.80" stroke="#6e6e6e" stroke-width="0.9" />
<path d="M537.80,236.15 L540.80,236.50 L542.40,235.85 L550.74,236.50 L552.34,235.85 L560.68,236.50 L562.28,235.85 L570.62,236.50 L572.22,235.85 L580.56,236.50 L582.16,235.85 L590.50,236.50 L592.10,235.85 L600.44,236.50 L602.04,235.85 L610.38,236.50 L611.98,235.85 L620.32,236.50 L621.92,235.85 L630.26,236.50 L631.86,235.85 L640.20,236.50 L641.80,235.85 L650.14,236.50 L651.74,235.85 L660.08,236.50 L661.68,235.85 L670.02,236.50 L671.62,235.85 L679.96,236.50 L681.56,235.85 L689.90,236.50 L691.50,235.85 L699.84,236.50 L701.44,235.85 L709.78,236.50 L711.38,235.85 L719.72,236.50 L721.32,235.85 L729.66,236.50 L731.26,235.85 L739.60,236.50 L741.20,235.85 L746.24,236.45" stroke="#222" stroke-width="1.45" fill="none" />
<circle cx="542.20" cy="235.25" r="0.55" fill="#ddd"/>
<circle cx="552.14" cy="235.25" r="0.55" fill="#ddd"/>
<circle cx="562.08" cy="235.25" r="0.55" fill="#ddd"/>
<circle cx="572.02" cy="235.25" r="0.55" fill="#ddd"/>
<circle cx="581.96" cy="235.25" r="0.55" fill="#ddd"/>
<circle cx="591.90" cy="235.25" r="0.55" fill="#ddd"/>
<circle cx="601.84" cy="235.25" r="0.55" fill="#ddd"/>
<circle cx="611.78" cy="235.25" r="0.55" fill="#ddd"/>
<circle cx="621.72" cy="235.25" r="0.55" fill="#ddd"/>
<circle cx="631.66" cy="235.25" r="0.55" fill="#ddd"/>
<circle cx="641.60" cy="235.25" r="0.55" fill="#ddd"/>
<circle cx="651.54" cy="235.25" r="0.55" fill="#ddd"/>
<circle cx="661.48" cy="235.25" r="0.55" fill="#ddd"/>
<circle cx="671.42" cy="235.25" r="0.55" fill="#ddd"/>
<circle cx="681.36" cy="235.25" r="0.55" fill="#ddd"/>
<circle cx="691.30" cy="235.25" r="0.55" fill="#ddd"/>
<circle cx="701.24" cy="235.25" r="0.55" fill="#ddd"/>
<circle cx="711.18" cy="235.25" r="0.55" fill="#ddd"/>
<circle cx="721.12" cy="235.25" r="0.55" fill="#ddd"/>
<circle cx="731.06" cy="235.25" r="0.55" fill="#ddd"/>
<circle cx="741.00" cy="235.25" r="0.55" fill="#ddd"/>
<line x1="746.24" y1="227.80" x2="746.24" y2="237.80" stroke="#555" stroke-width="0.9" />
<line x1="537.80" y1="227.80" x2="537.80" y2="237.80" stroke="#555" stroke-width="0.9" />
<line x1="753.14" y1="217.30" x2="753.14" y2="242.00" stroke="#777" stroke-width="0.8" />
<line x1="748.24" y1="229.60" x2="754.64" y2="229.60" stroke="#444" stroke-width="0.8" />
<line x1="748.24" y1="238.00" x2="754.64" y2="238.00" stroke="#777" stroke-width="0.7" />
<path d="M753.14,229.60 L752.34,226.60 L753.94,226.60 Z" fill="#383838"/>
<path d="M753.14,238.00 L752.34,241.00 L753.94,241.00 Z" fill="#383838"/>
<text transform="translate(751.54,224.2) rotate(-90)" font-size="9.4" fill="#3a3a3a">F</text>
<line x1="607.40" y1="221.60" x2="626.80" y2="221.60" stroke="#444" stroke-width="0.9" />
<line x1="607.40" y1="220.80" x2="607.40" y2="227.40" stroke="#555" stroke-width="0.9" />
<line x1="616.80" y1="220.80" x2="616.80" y2="227.40" stroke="#555" stroke-width="0.9" />
<path d="M607.40,221.60 L610.40,220.60 L610.40,222.60 Z" fill="#2a2a2a"/>
<path d="M616.80,221.60 L613.80,220.60 L613.80,222.60 Z" fill="#2a2a2a"/>
<text x="619.20" y="221.40" font-size="9.4" fill="#2a2a2a" text-anchor="start"  class="lbl">G</text>
<line x1="534.50" y1="226.80" x2="534.50" y2="238.00" stroke="#555" stroke-width="1.0" />
<line x1="533.30" y1="227.20" x2="537.80" y2="227.20" stroke="#555" stroke-width="0.8" />
<line x1="533.30" y1="238.00" x2="537.30" y2="238.00" stroke="#777" stroke-width="0.8" />
<text transform="translate(533.10,232.90) rotate(-90)" font-size="9.4" fill="#3a3a3a" text-anchor="middle">H</text>
<line x1="537.80" y1="227.80" x2="537.80" y2="252.30" stroke="#666" stroke-width="0.9" />
<line x1="554.60" y1="237.50" x2="554.60" y2="252.30" stroke="#555" stroke-width="0.9" />
<line x1="537.80" y1="251.80" x2="555.60" y2="251.80" stroke="#555" stroke-width="0.9" />
<path d="M537.80,251.80 L540.60,251.00 L540.60,252.60 Z" fill="#383838"/>
<path d="M554.60,251.80 L551.80,251.00 L551.80,252.60 Z" fill="#383838"/>
<text x="556.90" y="251.60" font-size="9.4" fill="#2a2a2a" text-anchor="start"  class="lbl">M</text>
<circle cx="554.40" cy="232.70" r="1.5" stroke="#2a2a2a" stroke-width="1.15" fill="#eee"/>
<ellipse cx="561.10" cy="232.4" rx="1.1" ry="1.8" transform="rotate(35 561.10 232.4)" fill="#eee" stroke="#2a2a2a" stroke-width="1.15"/>
<line x1="555.20" y1="238.00" x2="562.80" y2="229.60" stroke="#444" stroke-width="1.0" />
<line x1="562.80" y1="229.60" x2="572.10" y2="220.70" stroke="#666" stroke-width="0.8" />
<line x1="552.00" y1="230.00" x2="554.60" y2="237.60" stroke="#555" stroke-width="0.8" />
<line x1="572.10" y1="220.80" x2="566.80" y2="215.00" stroke="#3a3a3a" stroke-width="1.0" />
<line x1="549.00" y1="226.10" x2="564.80" y2="226.10" stroke="#444" stroke-width="0.9" />
<path d="M555.10,226.10 L551.70,224.80 L551.70,227.40 Z" fill="#222"/>
<path d="M560.00,226.10 L563.60,224.80 L563.60,227.40 Z" fill="#222"/>
<text x="555.20" y="225.20" font-size="9.8" fill="#2a2a2a" text-anchor="start"  class="lbl">J</text>
<text x="251.30" y="48.60" font-size="10.2" fill="#333" text-anchor="start" textLength="32.4" lengthAdjust="spacingAndGlyphs" class="lbl">Einlagig</text>
<text x="618.60" y="48.60" font-size="10.2" fill="#333" text-anchor="start" textLength="47.2" lengthAdjust="spacingAndGlyphs" class="lbl">Doppellagig</text>
<rect x="51.90" y="326.20" width="815.20" height="113.02" fill="#eeeeee" stroke="none" stroke-width="1"/>
<rect x="51.90" y="326.20" width="47.95" height="113.02" fill="#989898" stroke="none" stroke-width="1"/>
<rect x="243.71" y="326.20" width="95.91" height="113.02" fill="#989898" stroke="none" stroke-width="1"/>
<line x1="51.90" y1="326.20" x2="51.90" y2="439.22" stroke="#4e4e4e" stroke-width="0.9" />
<line x1="99.85" y1="326.20" x2="99.85" y2="439.22" stroke="#4e4e4e" stroke-width="0.9" />
<line x1="147.81" y1="326.20" x2="147.81" y2="439.22" stroke="#4e4e4e" stroke-width="0.9" />
<line x1="195.76" y1="326.20" x2="195.76" y2="439.22" stroke="#4e4e4e" stroke-width="0.9" />
<line x1="243.71" y1="326.20" x2="243.71" y2="439.22" stroke="#4e4e4e" stroke-width="0.9" />
<line x1="291.66" y1="326.20" x2="291.66" y2="439.22" stroke="#4e4e4e" stroke-width="0.9" />
<line x1="339.62" y1="326.20" x2="339.62" y2="439.22" stroke="#4e4e4e" stroke-width="0.9" />
<line x1="387.57" y1="326.20" x2="387.57" y2="439.22" stroke="#4e4e4e" stroke-width="0.9" />
<line x1="435.52" y1="326.20" x2="435.52" y2="439.22" stroke="#4e4e4e" stroke-width="0.9" />
<line x1="483.48" y1="326.20" x2="483.48" y2="439.22" stroke="#4e4e4e" stroke-width="0.9" />
<line x1="531.43" y1="326.20" x2="531.43" y2="439.22" stroke="#4e4e4e" stroke-width="0.9" />
<line x1="579.38" y1="326.20" x2="579.38" y2="439.22" stroke="#4e4e4e" stroke-width="0.9" />
<line x1="627.34" y1="326.20" x2="627.34" y2="439.22" stroke="#4e4e4e" stroke-width="0.9" />
<line x1="675.29" y1="326.20" x2="675.29" y2="439.22" stroke="#4e4e4e" stroke-width="0.9" />
<line x1="723.24" y1="326.20" x2="723.24" y2="439.22" stroke="#4e4e4e" stroke-width="0.9" />
<line x1="771.19" y1="326.20" x2="771.19" y2="439.22" stroke="#4e4e4e" stroke-width="0.9" />
<line x1="819.15" y1="326.20" x2="819.15" y2="439.22" stroke="#4e4e4e" stroke-width="0.9" />
<line x1="867.10" y1="326.20" x2="867.10" y2="439.22" stroke="#4e4e4e" stroke-width="0.9" />
<line x1="51.90" y1="326.20" x2="867.10" y2="326.20" stroke="#4e4e4e" stroke-width="0.9" />
<line x1="51.90" y1="348.90" x2="867.10" y2="348.90" stroke="#4e4e4e" stroke-width="0.9" />
<line x1="51.90" y1="360.19" x2="867.10" y2="360.19" stroke="#4e4e4e" stroke-width="0.9" />
<line x1="51.90" y1="371.48" x2="867.10" y2="371.48" stroke="#4e4e4e" stroke-width="0.9" />
<line x1="51.90" y1="382.77" x2="867.10" y2="382.77" stroke="#4e4e4e" stroke-width="0.9" />
<line x1="51.90" y1="394.06" x2="867.10" y2="394.06" stroke="#4e4e4e" stroke-width="0.9" />
<line x1="51.90" y1="405.35" x2="867.10" y2="405.35" stroke="#4e4e4e" stroke-width="0.9" />
<line x1="51.90" y1="416.64" x2="867.10" y2="416.64" stroke="#4e4e4e" stroke-width="0.9" />
<line x1="51.90" y1="427.93" x2="867.10" y2="427.93" stroke="#4e4e4e" stroke-width="0.9" />
<line x1="51.90" y1="439.22" x2="867.10" y2="439.22" stroke="#4e4e4e" stroke-width="0.9" />
<text x="53.50" y="334.80" font-size="7.8" fill="#ececec" text-anchor="start" textLength="45.3" lengthAdjust="spacingAndGlyphs">Maße in mm</text>
<text x="101.45" y="334.80" font-size="7.8" fill="#262626" text-anchor="start"  class="tc">Lagen</text>
<text x="149.41" y="334.80" font-size="7.8" fill="#262626" text-anchor="start"  class="tc">Paneele</text>
<text x="197.36" y="334.80" font-size="7.8" fill="#262626" text-anchor="start"  class="tc">Watt</text>
<text x="245.31" y="334.80" font-size="7.8" fill="#ececec" text-anchor="start" >A</text>
<text x="293.26" y="334.80" font-size="7.8" fill="#ececec" text-anchor="start" >B</text>
<text x="341.22" y="334.80" font-size="7.8" fill="#262626" text-anchor="start"  class="tc">C</text>
<text x="389.17" y="334.80" font-size="7.8" fill="#262626" text-anchor="start"  class="tc">D</text>
<text x="459.50" y="334.80" font-size="7.8" fill="#262626" text-anchor="middle"  class="tc">F</text>
<text x="507.45" y="334.80" font-size="7.8" fill="#262626" text-anchor="middle"  class="tc">G</text>
<text x="555.41" y="334.80" font-size="7.8" fill="#262626" text-anchor="middle"  class="tc">H</text>
<text x="603.36" y="334.80" font-size="7.8" fill="#262626" text-anchor="middle"  class="tc">i</text>
<text x="651.31" y="334.80" font-size="7.8" fill="#262626" text-anchor="middle"  class="tc">J</text>
<text x="699.26" y="334.80" font-size="7.8" fill="#262626" text-anchor="middle"  class="tc">K</text>
<text x="747.22" y="334.80" font-size="7.8" fill="#262626" text-anchor="middle"  class="tc">L</text>
<text x="795.17" y="334.80" font-size="7.8" fill="#262626" text-anchor="middle"  class="tc">M</text>
<text x="820.75" y="334.80" font-size="7.8" fill="#262626" text-anchor="start"  class="tc">Water</text>
<text x="197.36" y="345.50" font-size="7.8" fill="#262626" text-anchor="start"  class="tc">DIN 442</text>
<text x="820.75" y="345.50" font-size="7.8" fill="#262626" text-anchor="start"  class="tc">volume</text>
<text x="53.50" y="357.60" font-size="7.8" fill="#ececec" text-anchor="start" >602x600</text>
<text x="101.45" y="357.60" font-size="7.8" fill="#262626" text-anchor="start"  class="tc">Einlagig</text>
<text x="194.46" y="357.60" font-size="7.8" fill="#262626" text-anchor="end"  class="tc">8</text>
<text x="242.41" y="357.60" font-size="7.8" fill="#262626" text-anchor="end"  class="tc">451,08</text>
<text x="290.36" y="357.60" font-size="7.8" fill="#ececec" text-anchor="end" >600</text>
<text x="338.32" y="357.60" font-size="7.8" fill="#ececec" text-anchor="end" >602</text>
<text x="386.27" y="357.60" font-size="7.8" fill="#262626" text-anchor="end"  class="tc">545</text>
<text x="434.22" y="357.60" font-size="7.8" fill="#262626" text-anchor="end"  class="tc">79</text>
<text x="459.50" y="357.60" font-size="7.8" fill="#262626" text-anchor="middle"  class="tc">Ø40</text>
<text x="507.45" y="357.60" font-size="7.8" fill="#262626" text-anchor="middle"  class="tc">70x15</text>
<text x="555.41" y="357.60" font-size="7.8" fill="#262626" text-anchor="middle"  class="tc">52</text>
<text x="603.36" y="357.60" font-size="7.8" fill="#262626" text-anchor="middle"  class="tc">1/2&quot;</text>
<text x="634.94" y="357.60" font-size="7.8" fill="#2c2c2c" text-anchor="start"  class="tc">50</text>
<text x="699.26" y="357.60" font-size="7.8" fill="#262626" text-anchor="middle"  class="tc">Ø25</text>
<text x="747.22" y="357.60" font-size="7.8" fill="#262626" text-anchor="middle"  class="tc">9,5</text>
<text x="795.17" y="357.60" font-size="7.8" fill="#262626" text-anchor="middle"  class="tc">125,75</text>
<text x="850.65" y="357.60" font-size="7.8" fill="#2c2c2c" text-anchor="end"  class="tc">4,36</text>
<text x="53.50" y="368.89" font-size="7.8" fill="#ececec" text-anchor="start" >982x600</text>
<text x="101.45" y="368.89" font-size="7.8" fill="#262626" text-anchor="start"  class="tc">Einlagig</text>
<text x="194.46" y="368.89" font-size="7.8" fill="#262626" text-anchor="end"  class="tc">13</text>
<text x="242.41" y="368.89" font-size="7.8" fill="#262626" text-anchor="end"  class="tc">732,94</text>
<text x="290.36" y="368.89" font-size="7.8" fill="#ececec" text-anchor="end" >600</text>
<text x="338.32" y="368.89" font-size="7.8" fill="#ececec" text-anchor="end" >982</text>
<text x="386.27" y="368.89" font-size="7.8" fill="#262626" text-anchor="end"  class="tc">545</text>
<text x="434.22" y="368.89" font-size="7.8" fill="#262626" text-anchor="end"  class="tc">79</text>
<text x="459.50" y="368.89" font-size="7.8" fill="#262626" text-anchor="middle"  class="tc">Ø40</text>
<text x="507.45" y="368.89" font-size="7.8" fill="#262626" text-anchor="middle"  class="tc">70x15</text>
<text x="555.41" y="368.89" font-size="7.8" fill="#262626" text-anchor="middle"  class="tc">52</text>
<text x="603.36" y="368.89" font-size="7.8" fill="#262626" text-anchor="middle"  class="tc">1/2&quot;</text>
<text x="634.94" y="368.89" font-size="7.8" fill="#2c2c2c" text-anchor="start"  class="tc">50</text>
<text x="699.26" y="368.89" font-size="7.8" fill="#262626" text-anchor="middle"  class="tc">Ø25</text>
<text x="747.22" y="368.89" font-size="7.8" fill="#262626" text-anchor="middle"  class="tc">9,5</text>
<text x="795.17" y="368.89" font-size="7.8" fill="#262626" text-anchor="middle"  class="tc">125,75</text>
<text x="850.65" y="368.89" font-size="7.8" fill="#2c2c2c" text-anchor="end"  class="tc">7,09</text>
<text x="53.50" y="380.18" font-size="7.8" fill="#ececec" text-anchor="start" >1210x600</text>
<text x="101.45" y="380.18" font-size="7.8" fill="#262626" text-anchor="start"  class="tc">Einlagig</text>
<text x="194.46" y="380.18" font-size="7.8" fill="#262626" text-anchor="end"  class="tc">16</text>
<text x="242.41" y="380.18" font-size="7.8" fill="#262626" text-anchor="end"  class="tc">902,08</text>
<text x="290.36" y="380.18" font-size="7.8" fill="#ececec" text-anchor="end" >600</text>
<text x="338.32" y="380.18" font-size="7.8" fill="#ececec" text-anchor="end" >1210</text>
<text x="386.27" y="380.18" font-size="7.8" fill="#262626" text-anchor="end"  class="tc">545</text>
<text x="434.22" y="380.18" font-size="7.8" fill="#262626" text-anchor="end"  class="tc">79</text>
<text x="459.50" y="380.18" font-size="7.8" fill="#262626" text-anchor="middle"  class="tc">Ø40</text>
<text x="507.45" y="380.18" font-size="7.8" fill="#262626" text-anchor="middle"  class="tc">70x15</text>
<text x="555.41" y="380.18" font-size="7.8" fill="#262626" text-anchor="middle"  class="tc">52</text>
<text x="603.36" y="380.18" font-size="7.8" fill="#262626" text-anchor="middle"  class="tc">1/2&quot;</text>
<text x="634.94" y="380.18" font-size="7.8" fill="#2c2c2c" text-anchor="start"  class="tc">50</text>
<text x="699.26" y="380.18" font-size="7.8" fill="#262626" text-anchor="middle"  class="tc">Ø25</text>
<text x="747.22" y="380.18" font-size="7.8" fill="#262626" text-anchor="middle"  class="tc">9,5</text>
<text x="795.17" y="380.18" font-size="7.8" fill="#262626" text-anchor="middle"  class="tc">125,75</text>
<text x="850.65" y="380.18" font-size="7.8" fill="#2c2c2c" text-anchor="end"  class="tc">8,73</text>
<text x="53.50" y="391.47" font-size="7.8" fill="#ececec" text-anchor="start" >1590x600</text>
<text x="101.45" y="391.47" font-size="7.8" fill="#262626" text-anchor="start"  class="tc">Einlagig</text>
<text x="194.46" y="391.47" font-size="7.8" fill="#262626" text-anchor="end"  class="tc">21</text>
<text x="242.41" y="391.47" font-size="7.8" fill="#262626" text-anchor="end"  class="tc">1183,98</text>
<text x="290.36" y="391.47" font-size="7.8" fill="#ececec" text-anchor="end" >600</text>
<text x="338.32" y="391.47" font-size="7.8" fill="#ececec" text-anchor="end" >1590</text>
<text x="386.27" y="391.47" font-size="7.8" fill="#262626" text-anchor="end"  class="tc">545</text>
<text x="434.22" y="391.47" font-size="7.8" fill="#262626" text-anchor="end"  class="tc">79</text>
<text x="459.50" y="391.47" font-size="7.8" fill="#262626" text-anchor="middle"  class="tc">Ø40</text>
<text x="507.45" y="391.47" font-size="7.8" fill="#262626" text-anchor="middle"  class="tc">70x15</text>
<text x="555.41" y="391.47" font-size="7.8" fill="#262626" text-anchor="middle"  class="tc">52</text>
<text x="603.36" y="391.47" font-size="7.8" fill="#262626" text-anchor="middle"  class="tc">1/2&quot;</text>
<text x="634.94" y="391.47" font-size="7.8" fill="#2c2c2c" text-anchor="start"  class="tc">50</text>
<text x="699.26" y="391.47" font-size="7.8" fill="#262626" text-anchor="middle"  class="tc">Ø25</text>
<text x="747.22" y="391.47" font-size="7.8" fill="#262626" text-anchor="middle"  class="tc">9,5</text>
<text x="795.17" y="391.47" font-size="7.8" fill="#262626" text-anchor="middle"  class="tc">125,75</text>
<text x="850.65" y="391.47" font-size="7.8" fill="#2c2c2c" text-anchor="end"  class="tc">11,46</text>
<text x="53.50" y="402.76" font-size="7.8" fill="#ececec" text-anchor="start" >602x600</text>
<text x="101.45" y="402.76" font-size="7.8" fill="#262626" text-anchor="start"  class="tc">Doppllagig</text>
<text x="149.41" y="402.76" font-size="7.8" fill="#262626" text-anchor="start"  class="tc">8+8</text>
<text x="242.41" y="402.76" font-size="7.8" fill="#262626" text-anchor="end"  class="tc">902,08</text>
<text x="290.36" y="402.76" font-size="7.8" fill="#ececec" text-anchor="end" >600</text>
<text x="338.32" y="402.76" font-size="7.8" fill="#ececec" text-anchor="end" >602</text>
<text x="386.27" y="402.76" font-size="7.8" fill="#262626" text-anchor="end"  class="tc">545</text>
<text x="434.22" y="402.76" font-size="7.8" fill="#262626" text-anchor="end"  class="tc">95</text>
<text x="459.50" y="402.76" font-size="7.8" fill="#262626" text-anchor="middle"  class="tc">Ø40</text>
<text x="507.45" y="402.76" font-size="7.8" fill="#262626" text-anchor="middle"  class="tc">70x15</text>
<text x="555.41" y="402.76" font-size="7.8" fill="#262626" text-anchor="middle"  class="tc">68</text>
<text x="603.36" y="402.76" font-size="7.8" fill="#262626" text-anchor="middle"  class="tc">1/2&quot;</text>
<text x="634.94" y="402.76" font-size="7.8" fill="#2c2c2c" text-anchor="start"  class="tc">50</text>
<text x="699.26" y="402.76" font-size="7.8" fill="#262626" text-anchor="middle"  class="tc">Ø25</text>
<text x="747.22" y="402.76" font-size="7.8" fill="#262626" text-anchor="middle"  class="tc">9,5</text>
<text x="795.17" y="402.76" font-size="7.8" fill="#262626" text-anchor="middle"  class="tc">125,75</text>
<text x="850.65" y="402.76" font-size="7.8" fill="#2c2c2c" text-anchor="end"  class="tc">7,42</text>
<text x="53.50" y="414.05" font-size="7.8" fill="#ececec" text-anchor="start" >982x600</text>
<text x="101.45" y="414.05" font-size="7.8" fill="#262626" text-anchor="start"  class="tc">Doppllagig</text>
<text x="149.41" y="414.05" font-size="7.8" fill="#262626" text-anchor="start"  class="tc">13+13</text>
<text x="242.41" y="414.05" font-size="7.8" fill="#262626" text-anchor="end"  class="tc">1465,88</text>
<text x="290.36" y="414.05" font-size="7.8" fill="#ececec" text-anchor="end" >600</text>
<text x="338.32" y="414.05" font-size="7.8" fill="#ececec" text-anchor="end" >982</text>
<text x="386.27" y="414.05" font-size="7.8" fill="#262626" text-anchor="end"  class="tc">545</text>
<text x="434.22" y="414.05" font-size="7.8" fill="#262626" text-anchor="end"  class="tc">95</text>
<text x="459.50" y="414.05" font-size="7.8" fill="#262626" text-anchor="middle"  class="tc">Ø40</text>
<text x="507.45" y="414.05" font-size="7.8" fill="#262626" text-anchor="middle"  class="tc">70x15</text>
<text x="555.41" y="414.05" font-size="7.8" fill="#262626" text-anchor="middle"  class="tc">68</text>
<text x="603.36" y="414.05" font-size="7.8" fill="#262626" text-anchor="middle"  class="tc">1/2&quot;</text>
<text x="634.94" y="414.05" font-size="7.8" fill="#2c2c2c" text-anchor="start"  class="tc">50</text>
<text x="699.26" y="414.05" font-size="7.8" fill="#262626" text-anchor="middle"  class="tc">Ø25</text>
<text x="747.22" y="414.05" font-size="7.8" fill="#262626" text-anchor="middle"  class="tc">9,5</text>
<text x="795.17" y="414.05" font-size="7.8" fill="#262626" text-anchor="middle"  class="tc">125,75</text>
<text x="850.65" y="414.05" font-size="7.8" fill="#2c2c2c" text-anchor="end"  class="tc">12,06</text>
<text x="53.50" y="425.34" font-size="7.8" fill="#ececec" text-anchor="start" >1210x600</text>
<text x="101.45" y="425.34" font-size="7.8" fill="#262626" text-anchor="start"  class="tc">Doppllagig</text>
<text x="149.41" y="425.34" font-size="7.8" fill="#262626" text-anchor="start"  class="tc">16+16</text>
<text x="242.41" y="425.34" font-size="7.8" fill="#262626" text-anchor="end"  class="tc">1804,16</text>
<text x="290.36" y="425.34" font-size="7.8" fill="#ececec" text-anchor="end" >600</text>
<text x="338.32" y="425.34" font-size="7.8" fill="#ececec" text-anchor="end" >1210</text>
<text x="386.27" y="425.34" font-size="7.8" fill="#262626" text-anchor="end"  class="tc">545</text>
<text x="434.22" y="425.34" font-size="7.8" fill="#262626" text-anchor="end"  class="tc">95</text>
<text x="459.50" y="425.34" font-size="7.8" fill="#262626" text-anchor="middle"  class="tc">Ø40</text>
<text x="507.45" y="425.34" font-size="7.8" fill="#262626" text-anchor="middle"  class="tc">70x15</text>
<text x="555.41" y="425.34" font-size="7.8" fill="#262626" text-anchor="middle"  class="tc">68</text>
<text x="603.36" y="425.34" font-size="7.8" fill="#262626" text-anchor="middle"  class="tc">1/2&quot;</text>
<text x="634.94" y="425.34" font-size="7.8" fill="#2c2c2c" text-anchor="start"  class="tc">50</text>
<text x="699.26" y="425.34" font-size="7.8" fill="#262626" text-anchor="middle"  class="tc">Ø25</text>
<text x="747.22" y="425.34" font-size="7.8" fill="#262626" text-anchor="middle"  class="tc">9,5</text>
<text x="795.17" y="425.34" font-size="7.8" fill="#262626" text-anchor="middle"  class="tc">125,75</text>
<text x="850.65" y="425.34" font-size="7.8" fill="#2c2c2c" text-anchor="end"  class="tc">14,84</text>
<text x="53.50" y="436.63" font-size="7.8" fill="#ececec" text-anchor="start" >1590x600</text>
<text x="101.45" y="436.63" font-size="7.8" fill="#262626" text-anchor="start"  class="tc">Doppllagig</text>
<text x="149.41" y="436.63" font-size="7.8" fill="#262626" text-anchor="start"  class="tc">21+21</text>
<text x="242.41" y="436.63" font-size="7.8" fill="#262626" text-anchor="end"  class="tc">2367,96</text>
<text x="290.36" y="436.63" font-size="7.8" fill="#ececec" text-anchor="end" >600</text>
<text x="338.32" y="436.63" font-size="7.8" fill="#ececec" text-anchor="end" >1590</text>
<text x="386.27" y="436.63" font-size="7.8" fill="#262626" text-anchor="end"  class="tc">545</text>
<text x="434.22" y="436.63" font-size="7.8" fill="#262626" text-anchor="end"  class="tc">95</text>
<text x="459.50" y="436.63" font-size="7.8" fill="#262626" text-anchor="middle"  class="tc">Ø40</text>
<text x="507.45" y="436.63" font-size="7.8" fill="#262626" text-anchor="middle"  class="tc">70x15</text>
<text x="555.41" y="436.63" font-size="7.8" fill="#262626" text-anchor="middle"  class="tc">68</text>
<text x="603.36" y="436.63" font-size="7.8" fill="#262626" text-anchor="middle"  class="tc">1/2&quot;</text>
<text x="634.94" y="436.63" font-size="7.8" fill="#2c2c2c" text-anchor="start"  class="tc">50</text>
<text x="699.26" y="436.63" font-size="7.8" fill="#262626" text-anchor="middle"  class="tc">Ø25</text>
<text x="747.22" y="436.63" font-size="7.8" fill="#262626" text-anchor="middle"  class="tc">9,5</text>
<text x="795.17" y="436.63" font-size="7.8" fill="#262626" text-anchor="middle"  class="tc">125,75</text>
<text x="850.65" y="436.63" font-size="7.8" fill="#2c2c2c" text-anchor="end"  class="tc">19,49</text>
</g>
</svg>
</body></html>
